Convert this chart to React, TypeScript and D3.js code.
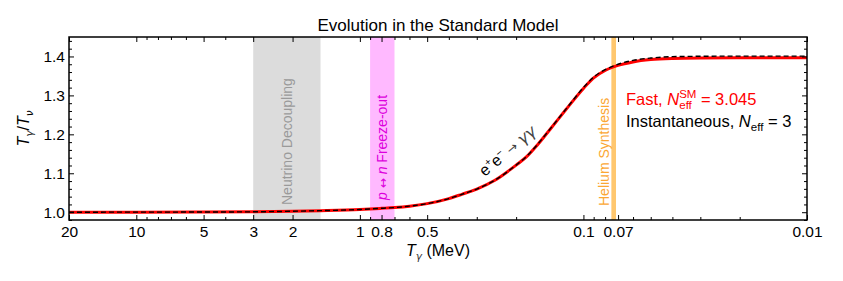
import React, { useEffect, useRef } from "react";
import * as d3 from "d3";

const W = 843;
const H = 281;
const margin = { top: 37, right: 36, bottom: 61, left: 69 };
const FONT = "'Liberation Sans', Arial, Helvetica, sans-serif";
const GREEK = "'DejaVu Sans', sans-serif";

// photon temperature in MeV
const temps = [20, 10, 5, 3, 2, 1.5, 1, 0.8, 0.7, 0.6, 0.5, 0.4, 0.35, 0.3, 0.25, 0.2, 0.18, 0.16, 0.14, 0.12, 0.1, 0.09, 0.08, 0.07, 0.06, 0.05, 0.04, 0.03, 0.02, 0.015, 0.01];
// T_gamma / T_nu, instantaneous decoupling (dashed)
const instant = [1.0, 1.0002, 1.0005, 1.001, 1.0025, 1.004, 1.007, 1.01, 1.012, 1.0155, 1.022, 1.035, 1.046, 1.0595, 1.0815, 1.121, 1.143, 1.175, 1.216, 1.264, 1.32, 1.347, 1.366, 1.38, 1.39, 1.396, 1.3995, 1.4005, 1.401, 1.401, 1.401];
// T_gamma / T_nu, fast (Neff = 3.045)
const fast = [1.0, 1.0002, 1.0005, 1.001, 1.0025, 1.004, 1.007, 1.01, 1.012, 1.0155, 1.022, 1.035, 1.046, 1.0595, 1.0815, 1.121, 1.142, 1.174, 1.215, 1.263, 1.318, 1.345, 1.364, 1.377, 1.386, 1.392, 1.395, 1.3962, 1.3966, 1.3966, 1.3966];

const xMajor = [20, 10, 5, 3, 2, 1, 0.8, 0.5, 0.1, 0.07, 0.01];
const xMinor = [9, 8, 7, 6, 4, 0.9, 0.7, 0.6, 0.4, 0.3, 0.2, 0.09, 0.08, 0.06, 0.05, 0.04, 0.03, 0.02];
const yMajor = [1.0, 1.1, 1.2, 1.3, 1.4];
const yMinor = [0.98, 1.02, 1.04, 1.06, 1.08, 1.12, 1.14, 1.16, 1.18, 1.22, 1.24, 1.26, 1.28, 1.32, 1.34, 1.36, 1.38, 1.42, 1.44];

// shaded epochs (MeV)
const neutrinoBand = [3, 1.5];
const freezeBand = [0.9, 0.7];
const heliumBand = [0.075, 0.0715];

export default function App() {
  const ref = useRef<SVGSVGElement | null>(null);

  useEffect(() => {
    if (ref.current == null) return;
    const svg = d3.select(ref.current);
    svg.selectAll("*").remove();

    const x0 = margin.left, x1 = W - margin.right;
    const y0 = margin.top, y1 = H - margin.bottom;

    const x = d3.scaleLog().domain([20, 0.01]).range([x0, x1]);
    const y = d3.scaleLinear().domain([0.98, 1.45]).range([y1, y0]);

    // bands
    const band = (b: number[], fill: string) =>
      svg.append("rect")
        .attr("x", x(b[0]))
        .attr("y", y0)
        .attr("width", x(b[1]) - x(b[0]))
        .attr("height", y1 - y0)
        .attr("fill", fill);
    band(neutrinoBand, "#dcdcdc");
    band(freezeBand, "#ffb9ff");
    band(heliumBand, "#ffc76e");

    const vlabel = (cx: number, by: number, color: string) =>
      svg.append("text")
        .attr("transform", `translate(${cx},${by}) rotate(-90)`)
        .attr("font-family", FONT)
        .attr("font-size", 14)
        .attr("fill", color);

    vlabel((x(neutrinoBand[0]) + x(neutrinoBand[1])) / 2 + 5, 205, "#9a9a9a").text("Neutrino Decoupling");
    const fz = vlabel((x(freezeBand[0]) + x(freezeBand[1])) / 2 + 5, 200, "#dd00dd");
    fz.append("tspan").attr("font-style", "italic").text("p");
    fz.append("tspan").text(" ");
    fz.append("tspan").attr("font-family", GREEK).attr("font-size", 12).text("\u2194");
    fz.append("tspan").text(" ");
    fz.append("tspan").attr("font-style", "italic").text("n");
    fz.append("tspan").text(" Freeze-out");
    vlabel(x(heliumBand[0]) - 2.5, 206, "#fba733").text("Helium Synthesis");

    // curves
    const pts = (vals: number[]) => temps.map((t, i) => [x(t), y(vals[i])] as [number, number]);
    const line = d3.line().curve(d3.curveMonotoneX);
    svg.append("path")
      .attr("d", line(pts(fast)))
      .attr("fill", "none")
      .attr("stroke", "#ff0000")
      .attr("stroke-width", 3);
    svg.append("path")
      .attr("d", line(pts(instant)))
      .attr("fill", "none")
      .attr("stroke", "#000")
      .attr("stroke-width", 1.4)
      .attr("stroke-dasharray", "5,3");

    // axes
    const styleAxis = (g: any) => {
      g.select(".domain").remove();
      g.selectAll("line").attr("stroke", "#000").attr("stroke-width", 1);
      g.selectAll("text").attr("font-family", FONT).attr("font-size", 15.5).attr("fill", "#000");
    };
    const fmt = (d: any) => String(d);

    svg.append("g").attr("transform", `translate(0,${y1})`)
      .call(d3.axisBottom(x).tickValues(xMajor).tickFormat(fmt).tickSizeInner(-5).tickSizeOuter(0).tickPadding(5.5))
      .call(styleAxis);
    svg.append("g").attr("transform", `translate(0,${y1})`)
      .call(d3.axisBottom(x).tickValues(xMinor).tickFormat(() => "").tickSizeInner(-3).tickSizeOuter(0))
      .call(styleAxis);
    svg.append("g").attr("transform", `translate(0,${y0})`)
      .call(d3.axisTop(x).tickValues(xMajor).tickFormat(() => "").tickSizeInner(-5).tickSizeOuter(0))
      .call(styleAxis);
    svg.append("g").attr("transform", `translate(0,${y0})`)
      .call(d3.axisTop(x).tickValues(xMinor).tickFormat(() => "").tickSizeInner(-3).tickSizeOuter(0))
      .call(styleAxis);

    svg.append("g").attr("transform", `translate(${x0},0)`)
      .call(d3.axisLeft(y).tickValues(yMajor).tickFormat(d3.format(".1f")).tickSizeInner(-5).tickSizeOuter(0).tickPadding(4))
      .call(styleAxis);
    svg.append("g").attr("transform", `translate(${x0},0)`)
      .call(d3.axisLeft(y).tickValues(yMinor).tickFormat(() => "").tickSizeInner(-3).tickSizeOuter(0))
      .call(styleAxis);
    svg.append("g").attr("transform", `translate(${x1},0)`)
      .call(d3.axisRight(y).tickValues(yMajor).tickFormat(() => "").tickSizeInner(-5).tickSizeOuter(0))
      .call(styleAxis);
    svg.append("g").attr("transform", `translate(${x1},0)`)
      .call(d3.axisRight(y).tickValues(yMinor).tickFormat(() => "").tickSizeInner(-3).tickSizeOuter(0))
      .call(styleAxis);

    svg.append("rect")
      .attr("x", x0).attr("y", y0)
      .attr("width", x1 - x0).attr("height", y1 - y0)
      .attr("fill", "none").attr("stroke", "#000").attr("stroke-width", 1.5);

    // title
    svg.append("text")
      .attr("x", (x0 + x1) / 2).attr("y", 31)
      .attr("text-anchor", "middle")
      .attr("font-family", FONT).attr("font-size", 17)
      .text("Evolution in the Standard Model");

    // x label
    const xl = svg.append("text")
      .attr("x", (x0 + x1) / 2).attr("y", 256)
      .attr("text-anchor", "middle")
      .attr("font-family", FONT).attr("font-size", 16);
    xl.append("tspan").attr("font-style", "italic").text("T");
    xl.append("tspan").attr("font-size", 10.5).attr("dy", 4).attr("font-family", GREEK).attr("font-style", "italic").attr("fill", "#333").text("\u03b3");
    xl.append("tspan").attr("dy", -4).text(" (MeV)");

    // y label
    const yl = svg.append("text")
      .attr("transform", `translate(29,${(y0 + y1) / 2}) rotate(-90)`)
      .attr("text-anchor", "middle")
      .attr("font-family", FONT).attr("font-size", 16);
    yl.append("tspan").attr("font-style", "italic").text("T");
    yl.append("tspan").attr("font-size", 10.5).attr("dy", 4).attr("font-family", GREEK).attr("font-style", "italic").attr("fill", "#333").text("\u03b3");
    yl.append("tspan").attr("dy", -4).text("/");
    yl.append("tspan").attr("font-style", "italic").text("T");
    yl.append("tspan").attr("font-size", 10.5).attr("dy", 4).attr("font-family", GREEK).attr("font-style", "italic").text("\u03bd");

    // process annotation
    const ann = svg.append("text")
      .attr("transform", "translate(511,155) rotate(-40)")
      .attr("text-anchor", "middle")
      .attr("font-family", FONT).attr("font-size", 16);
    ann.append("tspan").text("e");
    ann.append("tspan").attr("font-size", 10).attr("dy", -6).text("+");
    ann.append("tspan").attr("dy", 6).text("e");
    ann.append("tspan").attr("font-size", 10).attr("dy", -6).text("\u2212");
    ann.append("tspan").attr("dy", 6).text(" ");
    ann.append("tspan").attr("font-family", GREEK).attr("font-size", 13).attr("fill", "#444").text("\u2192");
    ann.append("tspan").text(" ");
    ann.append("tspan").attr("font-family", GREEK).attr("font-style", "italic").attr("fill", "#444").text("\u03b3\u03b3");

    // legend
    const lx = 626;
    const l1 = svg.append("text").attr("x", lx).attr("y", 105)
      .attr("font-family", FONT).attr("font-size", 16.5).attr("fill", "#ff0000");
    l1.append("tspan").text("Fast, ");
    l1.append("tspan").attr("font-style", "italic").text("N");
    l1.append("tspan").attr("font-size", 11.5).attr("dy", -7).text("SM");
    l1.append("tspan").attr("font-size", 11.5).attr("dx", -17.2).attr("dy", 11).text("eff");
    l1.append("tspan").attr("dx", 4.5).attr("dy", -4).text(" = 3.045");

    const l2 = svg.append("text").attr("x", lx).attr("y", 127)
      .attr("font-family", FONT).attr("font-size", 16.5).attr("fill", "#000");
    l2.append("tspan").text("Instantaneous, ");
    l2.append("tspan").attr("font-style", "italic").text("N");
    l2.append("tspan").attr("font-size", 11.5).attr("dy", 4).text("eff");
    l2.append("tspan").attr("dy", -4).text(" = 3");
  }, []);

  return (
    <svg
      ref={ref}
      width={W}
      height={H}
      style={{ position: "absolute", left: 0, top: 0, background: "#fff" }}
    />
  );
}
